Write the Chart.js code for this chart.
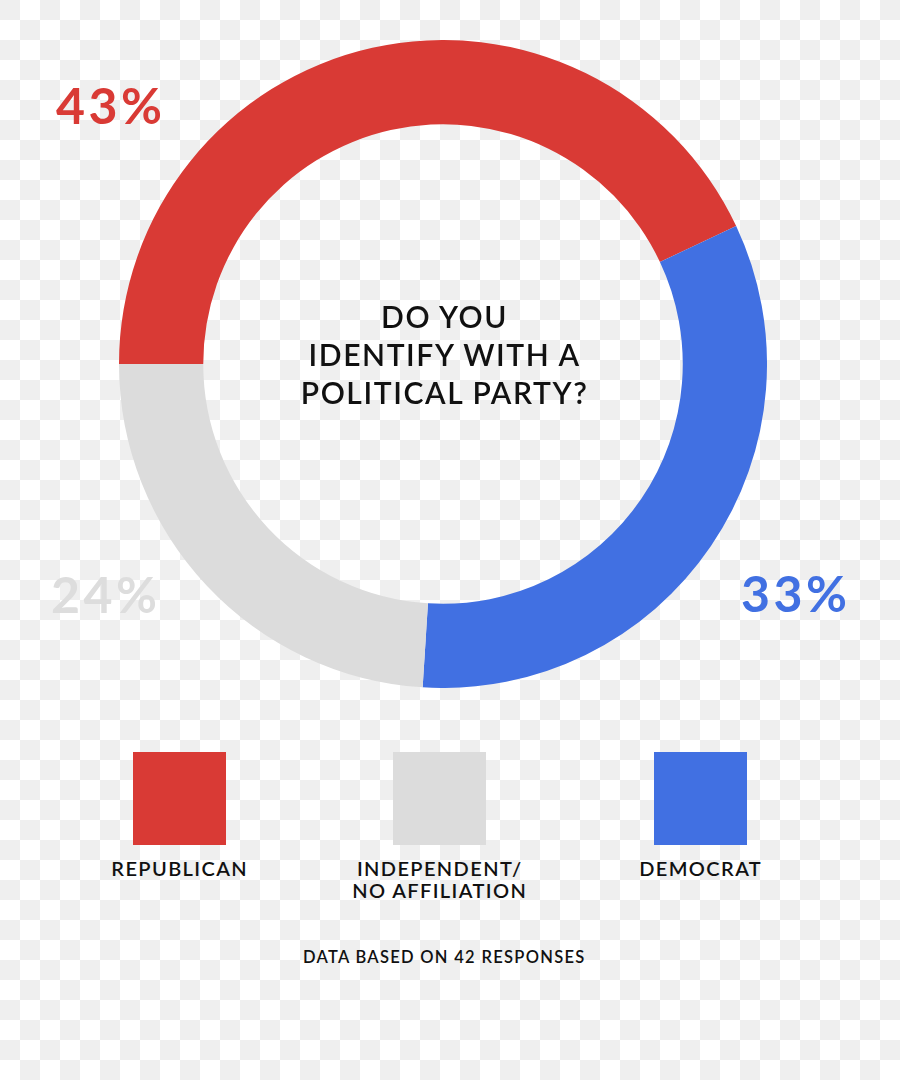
<!DOCTYPE html>
<html>
<head>
<meta charset="utf-8">
<script src="https://cdn.jsdelivr.net/npm/chart.js@4.4.0/dist/chart.umd.min.js"></script>
<style>
  html, body {
    margin: 0;
    padding: 0;
  }
  body {
    width: 900px;
    height: 1080px;
    position: relative;
    overflow: hidden;
    font-family: Lato, "Open Sans", sans-serif;
    background-color: #fff;
    background-image: conic-gradient(#fff 25%, #efefef 0 50%, #fff 0 75%, #efefef 0);
    background-size: 40px 40px;
  }
  #wrap {
    position: absolute;
    left: 119px;
    top: 40px;
    width: 648px;
    height: 648px;
  }
  .pct {
    position: absolute;
    font-weight: 700;
    font-size: 50px;
    line-height: 1;
    letter-spacing: 3.5px;
  }
  #question {
    position: absolute;
    left: 243px;
    width: 400px;
    top: 297px;
    text-align: center;
    font-weight: 600;
    font-size: 30px;
    line-height: 38px;
    color: #111;
    letter-spacing: 1.6px;
    padding-left: 1.6px;
  }
  .item {
    position: absolute;
    top: 752px;
    width: 240px;
    text-align: center;
  }
  .swatch {
    width: 93px;
    height: 93px;
    margin: 0 auto;
  }
  .item .lbl {
    margin-top: 12px;
    font-weight: 600;
    font-size: 20px;
    line-height: 22px;
    color: #111;
    letter-spacing: 1.4px;
    padding-left: 1.4px;
  }
  #note {
    position: absolute;
    top: 947px;
    left: 0;
    width: 886px;
    text-align: center;
    font-weight: 600;
    font-size: 16.5px;
    color: #111;
    letter-spacing: 1.3px;
    padding-left: 1.3px;
  }
</style>
</head>
<body>
<div id="wrap"><canvas id="pie"></canvas></div>
<div id="question">DO YOU<br>IDENTIFY WITH A<br>POLITICAL PARTY?</div>
<div id="legend"></div>
<div id="note"></div>

<script>
// chart order: clockwise from 9 o'clock
const labels = ['REPUBLICAN', 'DEMOCRAT', 'INDEPENDENT/\nNO AFFILIATION'];
const values = [43, 33, 24];
const colors = ['#d93a35', '#4170e2', '#dcdcdc'];
const labelColors = ['#d93a35', '#4170e2', '#dddddd'];
const legendOrder = [0, 2, 1];
const responses = 42;

// where each percentage sits on the page
const pctPos = [
  { left: 56, top: 80 },
  { left: 741, top: 568 },
  { left: 51, top: 569 },
];
const legendCenters = [179, 700, 439];

new Chart(document.getElementById('pie'), {
  type: 'doughnut',
  data: {
    labels,
    datasets: [{
      data: values,
      backgroundColor: colors,
      borderWidth: 0,
      hoverOffset: 0,
    }]
  },
  options: {
    responsive: true,
    maintainAspectRatio: true,
    animation: false,
    rotation: -90,
    cutout: '74%',
    layout: { padding: 0 },
    plugins: {
      legend: { display: false },
      tooltip: { enabled: false }
    }
  }
});

values.forEach((v, i) => {
  const el = document.createElement('div');
  el.className = 'pct';
  el.textContent = v + '%';
  el.style.color = labelColors[i];
  el.style.left = pctPos[i].left + 'px';
  el.style.top = pctPos[i].top + 'px';
  document.body.appendChild(el);
});

const legend = document.getElementById('legend');
legendOrder.forEach(i => {
  const item = document.createElement('div');
  item.className = 'item';
  item.style.left = (legendCenters[i] - 120) + 'px';
  item.innerHTML = `<div class="swatch" style="background:${colors[i]}"></div>` +
    `<div class="lbl">${labels[i].replace('\n', '<br>')}</div>`;
  legend.appendChild(item);
});

document.getElementById('note').textContent = `DATA BASED ON ${responses} RESPONSES`;
</script>
</body>
</html>
